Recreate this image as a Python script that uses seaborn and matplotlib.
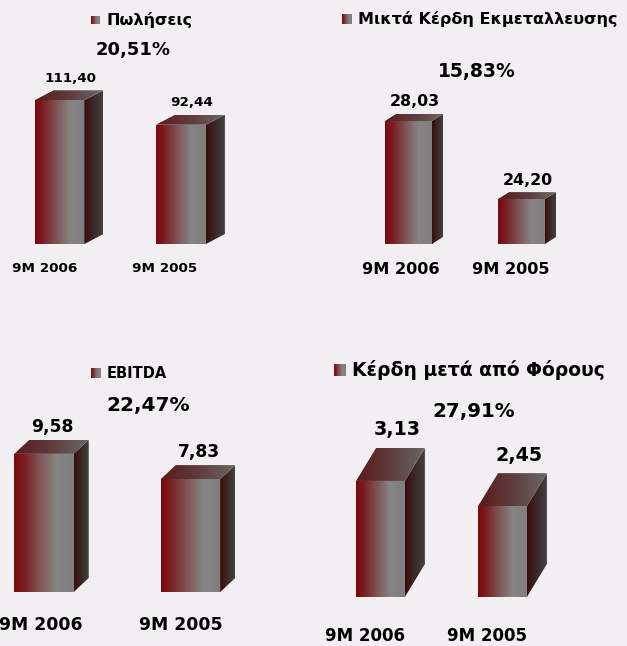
import numpy as np
import matplotlib
matplotlib.use('Agg')
import matplotlib.pyplot as plt
from matplotlib.colors import LinearSegmentedColormap
from matplotlib.patches import Polygon
import seaborn as sns

periods = ['9M 2006', '9M 2005']
sales = [111.40, 92.44]
gross_profit = [28.03, 24.20]
ebitda = [9.58, 7.83]
net_profit = [3.13, 2.45]
titles = ['Πωλήσεις', 'Μικτά Κέρδη Εκμεταλλευσης', 'EBITDA', 'Κέρδη μετά από Φόρους']
growth = ['20,51%', '15,83%', '22,47%', '27,91%']
series = [sales, gross_profit, ebitda, net_profit]

W, H = 627, 646

sns.set_theme(style='white')
plt.rcParams['font.family'] = ['DejaVu Sans']
plt.rcParams['font.weight'] = 'bold'

front_cmap = LinearSegmentedColormap.from_list(
    'front', [(0, '#7c080e'), (0.15, '#7a1c20'), (0.4, '#7f4e50'),
              (0.7, '#868484'), (1, '#7f7f7f')])
side_cmap = LinearSegmentedColormap.from_list('side', [(0, '#3c0a0d'), (0.4, '#3a2424'), (1, '#434141')])
top_cmap = LinearSegmentedColormap.from_list('top', ['#581a1b', '#5f3c3d', '#6b6868'])
grad = np.linspace(0, 1, 256)[None, :]

# layout of each panel, in pixels of the original slide
panels = [
    dict(c0=59.5, gap=121.5, bw=0.41, base=244, ppu=1.29, y0=0.0, depth=(19, 10), lab=(11, 22),
         mark=(91, 20, 9), title_fs=11.5, pct=(133, 50, 13), cats=((45, 268), (165, 268)),
         val_fs=9.7, cat_fs=9.7),
    dict(c0=408.5, gap=113, bw=0.416, base=244, ppu=20.4, y0=22.0, depth=(11, 7), lab=(6, 19),
         mark=(342, 19, 10), title_fs=11.5, pct=(477, 72, 13.5), cats=((401, 270), (511, 270)),
         val_fs=11.4, cat_fs=11.6),
    dict(c0=44, gap=146.5, bw=0.406, base=592, ppu=14.42, y0=0.0, depth=(15, 14), lab=(8, 27),
         mark=(91, 373, 10), title_fs=10.5, pct=(148, 406, 14.5), cats=((41, 625), (181, 625)),
         val_fs=12.3, cat_fs=12.4),
    dict(c0=380.5, gap=122, bw=0.40, base=597, ppu=37.08, y0=0.0, depth=(20, 33), lab=(17, 51),
         mark=(334, 370, 12), title_fs=13.5, pct=(474, 412, 14.3), cats=((365, 636), (487, 636)),
         val_fs=13.7, cat_fs=12.0),
]

fig = plt.figure(figsize=(W / 100, H / 100), dpi=100)
fig.patch.set_facecolor('#f1eff1')


def px(x, y):
    return x / W, 1 - y / H


for values, title, pct, lay in zip(series, titles, growth, panels):
    ax_h = 230
    left = lay['c0'] - lay['gap'] / 2
    ax = fig.add_axes([left / W, (H - lay['base']) / H, 2 * lay['gap'] / W, ax_h / H])
    sns.barplot(x=periods, y=values, ax=ax, width=lay['bw'], color='#808080')
    xlim = (-0.5, 1.5)
    ylim = (lay['y0'], lay['y0'] + ax_h / lay['ppu'])
    ddx = lay['depth'][0] / lay['gap']
    ddy = lay['depth'][1] / lay['ppu']
    b = ylim[0]

    for patch, v in zip(ax.patches, values):
        patch.set_facecolor('none')
        patch.set_edgecolor('none')
        xl = patch.get_x()
        x1 = xl + patch.get_width()
        side = Polygon([(x1, b), (x1 + ddx, b + ddy), (x1 + ddx, v + ddy), (x1, v)],
                       fill=False, lw=0)
        top = Polygon([(xl, v), (x1, v), (x1 + ddx, v + ddy), (xl + ddx, v + ddy)],
                      fill=False, lw=0)
        ax.add_patch(side)
        ax.add_patch(top)
        im = ax.imshow(grad, cmap=front_cmap, extent=(xl, x1, b, v), aspect='auto', zorder=2)
        im.set_clip_path(patch)
        im = ax.imshow(grad, cmap=side_cmap, extent=(x1, x1 + ddx, b, v + ddy),
                       aspect='auto', zorder=2)
        im.set_clip_path(side)
        im = ax.imshow(grad, cmap=top_cmap, extent=(xl, x1 + ddx, v, v + ddy),
                       aspect='auto', zorder=2)
        im.set_clip_path(top)
        ax.annotate(f'{v:.2f}'.replace('.', ','), xy=(patch.get_x() + patch.get_width() / 2, v),
                    xytext=lay['lab'], textcoords='offset pixels', ha='center', va='center',
                    fontsize=lay['val_fs'], fontweight='bold', color='black',
                    annotation_clip=False)

    ax.set_xlim(xlim)
    ax.set_ylim(ylim)
    ax.set_axis_off()

    # legend marker + title
    mx, my, ms = lay['mark']
    mark_ax = fig.add_axes([mx / W, 1 - (my + ms / 2) / H, ms / W, ms / H])
    mark_ax.imshow(grad, cmap=front_cmap, aspect='auto')
    mark_ax.set_axis_off()
    fig.text(*px(mx + ms + 6, my), title, ha='left', va='center',
             fontsize=lay['title_fs'], fontweight='bold', color='black')

    fig.text(*px(lay['pct'][0], lay['pct'][1]), pct, ha='center', va='center',
             fontsize=lay['pct'][2], fontweight='bold', color='black')
    for (cx, cy), name in zip(lay['cats'], periods):
        fig.text(*px(cx, cy), name, ha='center', va='center',
                 fontsize=lay['cat_fs'], fontweight='bold', color='black')

fig.savefig('out.png', dpi=100, facecolor=fig.get_facecolor())
